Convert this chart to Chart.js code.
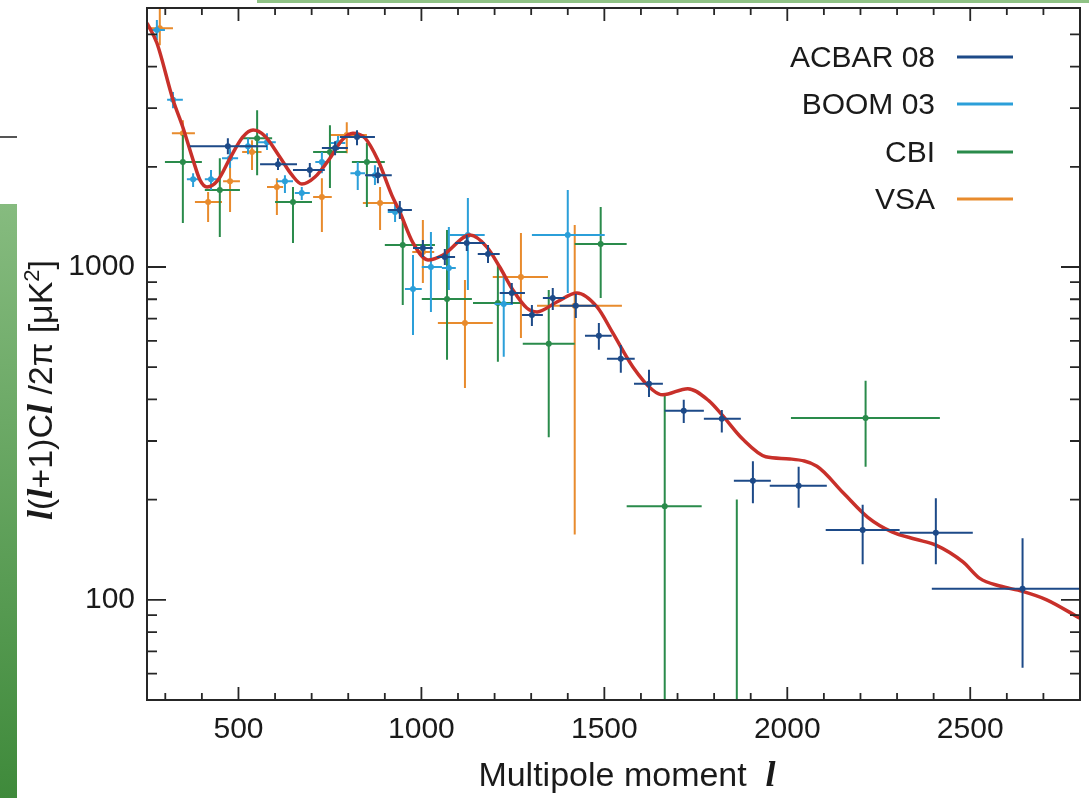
<!DOCTYPE html>
<html>
<head>
<meta charset="utf-8">
<script src="https://cdn.jsdelivr.net/npm/chart.js@4.4.1/dist/chart.umd.min.js"></script>
<style>
  body { margin: 0; background: #fff; }
  #wrap { position: relative; width: 1089px; height: 798px; }
  #side { position: absolute; left: 0; top: 204px; width: 17px; height: 594px;
          background: linear-gradient(#86bb7f, #3f8a3b); }
  #rule { position: absolute; left: 0; top: 136px; width: 17px; height: 2px; background: #555; }
  #topline { position: absolute; left: 257px; top: 0; width: 832px; height: 3px; background: #8fc285; }
  canvas { position: absolute; left: 0; top: 0; }
</style>
</head>
<body>
<div id="wrap">
  <div id="side"></div>
  <div id="rule"></div>
  <div id="topline"></div>
  <canvas id="cmb"></canvas>
</div>
<script>
// multipole l, bin edges, band power and its error range (uK^2)
const acbarL    = [471, 608, 695, 764, 824, 881, 941, 1004, 1064, 1124, 1182, 1247, 1302, 1359, 1422, 1485, 1545, 1622, 1717, 1821, 1906, 2031, 2206, 2406, 2643];
const acbarLMin = [367, 559, 649, 728, 777, 846, 908, 977, 1042, 1092, 1154, 1214, 1275, 1332, 1378, 1447, 1507, 1581, 1665, 1772, 1854, 1952, 2105, 2307, 2395];
const acbarLMax = [578, 660, 736, 799, 873, 919, 974, 1031, 1092, 1173, 1214, 1283, 1332, 1392, 1477, 1520, 1583, 1660, 1772, 1873, 1955, 2108, 2307, 2507, 2880];
const acbarV    = [2307, 2036, 1955, 2276, 2456, 1888, 1483, 1141, 1071, 1180, 1094, 836, 717, 807, 765, 621, 530, 446, 370, 350, 228, 220, 162, 159, 108];
const acbarVMin = [2183, 1955, 1862, 2168, 2322, 1786, 1393, 1071, 1014, 1117, 1028, 774, 665, 743, 703, 564, 481, 407, 340, 318, 195, 189, 128, 128, 62.5];
const acbarVMax = [2438, 2123, 2052, 2388, 2577, 1995, 1578, 1205, 1132, 1247, 1164, 895, 769, 864, 830, 679, 583, 491, 399, 372, 261, 251, 193, 202, 153];

const boomL    = [277, 321, 376, 425, 477, 526, 578, 627, 673, 728, 772, 826, 873, 928, 977, 1026, 1075, 1127, 1225, 1400];
const boomLMin = [258, 305, 359, 408, 455, 504, 553, 605, 654, 710, 752, 806, 852, 908, 955, 1001, 1056, 1078, 1200, 1302];
const boomLMax = [299, 348, 395, 444, 499, 548, 602, 649, 695, 746, 792, 846, 894, 948, 1001, 1056, 1094, 1173, 1250, 1501];
const boomV    = [5150, 3180, 1836, 1836, 2123, 2307, 2372, 1811, 1668, 2067, 2356, 1914, 1888, 1463, 859, 1000, 993, 1247, 774, 1247];
const boomVMin = [4810, 2999, 1738, 1703, 1982, 2183, 2245, 1668, 1589, 1914, 2245, 1703, 1763, 1365, 625, 733, 853, 853, 537, 836];
const boomVMax = [5520, 3357, 1914, 1955, 2274, 2438, 2523, 1888, 1738, 2214, 2473, 2067, 2023, 1567, 1087, 1274, 1319, 1611, 959, 1703];

const cbiL    = [348, 449, 551, 649, 750, 851, 949, 1070, 1209, 1348, 1490, 1665, 1862, 2214];
const cbiLMin = [299, 408, 512, 600, 704, 810, 900, 1001, 1141, 1277, 1419, 1561, 1810, 2010];
const cbiLMax = [400, 504, 592, 701, 796, 900, 1037, 1138, 1277, 1419, 1561, 1766, 1920, 2417];
const cbiV    = [2067, 1703, 2438, 1567, 2214, 2067, 1164, 802, 780, 588, 1173, 191, 30, 352];
const cbiVMin = [1356, 1231, 1888, 1181, 1727, 1514, 769, 526, 519, 308, 807, 10, 5, 251];
const cbiVMax = [2490, 2123, 2958, 1738, 2668, 2356, 1413, 1291, 1014, 853, 1514, 411, 200, 455];

const vsaL    = [285, 348, 417, 477, 537, 605, 728, 796, 887, 1004, 1119, 1272, 1419];
const vsaLMin = [250, 318, 381, 458, 510, 578, 704, 750, 840, 975, 1045, 1195, 1316];
const vsaLMax = [321, 381, 455, 504, 563, 622, 755, 851, 933, 1035, 1195, 1346, 1548];
const vsaV    = [5220, 2523, 1567, 1811, 2214, 1738, 1622, 2490, 1556, 1109, 679, 933, 765];
const vsaVMin = [4640, 2245, 1365, 1463, 1955, 1433, 1274, 2198, 1291, 895, 433, 612, 157];
const vsaVMax = [6500, 2762, 1679, 1982, 2405, 1849, 1849, 2724, 1738, 1384, 914, 1264, 1337];

// best-fit model spectrum
const theoryL = [250, 277, 321, 348, 376, 395, 414, 444, 477, 512, 540, 572, 613, 646, 673, 709, 750, 783, 813, 846, 881, 919, 941, 977, 1018, 1059, 1133, 1179, 1214, 1250, 1288, 1316, 1370, 1425, 1480, 1523, 1578, 1632, 1660, 1728, 1786, 1821, 1878, 1941, 2007, 2081, 2154, 2220, 2286, 2351, 2406, 2480, 2526, 2581, 2643, 2709, 2800];
const theoryV = [5410, 4710, 3180, 2630, 2095, 1824, 1740, 1824, 2123, 2460, 2580, 2475, 2140, 1890, 1775, 1863, 2123, 2406, 2523, 2438, 2095, 1644, 1463, 1181, 1050, 1087, 1247, 1148, 1000, 853, 753, 733, 785, 836, 759, 634, 501, 427, 413, 431, 396, 360, 304, 269, 265, 252, 209, 177, 160, 152, 146, 130, 116, 110, 106, 100, 88];

const xLabels = [500, 1000, 1500, 2000, 2500];
const yLabels = [100, 1000];

const sansFont = '"Liberation Sans", Arial, Helvetica, sans-serif';
const ellFont = 'italic bold 36px "Liberation Serif", "DejaVu Serif", serif';

function makeSet(label, color, order, L, LMin, LMax, V, VMin, VMax) {
    return {
        label: label,
        order: order,
        data: L.map((l, i) => ({ x: l, y: V[i] })),
        errors: L.map((l, i) => ({ l: l, lMin: LMin[i], lMax: LMax[i], v: V[i], vMin: VMin[i], vMax: VMax[i] })),
        borderColor: color,
        backgroundColor: color,
        pointRadius: 3,
        pointBorderWidth: 0,
        showLine: false
    };
}

const errorBars = {
    id: 'errorBars',
    beforeDatasetDraw(chart, args) {
        const ds = chart.data.datasets[args.index];
        if (!ds.errors) return;
        const { ctx, chartArea: a, scales: { x, y } } = chart;
        ctx.save();
        ctx.beginPath();
        ctx.rect(a.left, a.top, a.right - a.left, a.bottom - a.top);
        ctx.clip();
        ctx.strokeStyle = ds.borderColor;
        ctx.lineWidth = 2;
        ctx.beginPath();
        ds.errors.forEach(e => {
            const px = x.getPixelForValue(e.l);
            const py = y.getPixelForValue(e.v);
            ctx.moveTo(x.getPixelForValue(e.lMin), py);
            ctx.lineTo(x.getPixelForValue(e.lMax), py);
            ctx.moveTo(px, y.getPixelForValue(e.vMin));
            ctx.lineTo(px, y.getPixelForValue(e.vMax));
        });
        ctx.stroke();
        ctx.restore();
    }
};

// frame with inward ticks on all four sides
const frameTicks = {
    id: 'frameTicks',
    afterDatasetsDraw(chart) {
        const { ctx, chartArea: a, scales: { x, y } } = chart;
        ctx.save();
        ctx.strokeStyle = '#262626';
        ctx.lineWidth = 2;
        ctx.strokeRect(a.left, a.top, a.right - a.left, a.bottom - a.top);
        ctx.lineWidth = 1.8;
        ctx.beginPath();
        for (let v = 300; v <= 2700; v += 100) {
            const px = x.getPixelForValue(v);
            const len = v % 500 === 0 ? 13 : 7;
            ctx.moveTo(px, a.bottom); ctx.lineTo(px, a.bottom - len);
            ctx.moveTo(px, a.top); ctx.lineTo(px, a.top + len);
        }
        [10, 100, 1000].forEach(dec => {
            for (let m = 1; m <= 9; m++) {
                const v = m * dec;
                if (v < 50 || v > 6000) continue;
                const py = y.getPixelForValue(v);
                const len = m === 1 ? 19 : 10;
                ctx.moveTo(a.left, py); ctx.lineTo(a.left + len, py);
                ctx.moveTo(a.right, py); ctx.lineTo(a.right - len, py);
            }
        });
        ctx.stroke();
        ctx.restore();
    }
};

function drawParts(ctx, parts, x, y) {
    let cx = x;
    parts.forEach(p => {
        ctx.font = p.f;
        ctx.fillText(p.t, cx, y + (p.up || 0));
        cx += ctx.measureText(p.t).width;
    });
}
function partsWidth(ctx, parts) {
    let w = 0;
    parts.forEach(p => { ctx.font = p.f; w += ctx.measureText(p.t).width; });
    return w;
}

// axis titles and legend
const annotations = {
    id: 'annotations',
    afterDraw(chart) {
        const ctx = chart.ctx;
        ctx.save();
        ctx.fillStyle = '#1a1a1a';
        ctx.textBaseline = 'alphabetic';
        ctx.textAlign = 'left';

        const sans = '34px ' + sansFont;
        const xParts = [{ t: 'Multipole moment  ', f: sans }, { t: 'l', f: ellFont }];
        const xw = partsWidth(ctx, xParts);
        drawParts(ctx, xParts, 627 - xw / 2, 786);

        const yParts = [
            { t: 'l', f: ellFont }, { t: '(', f: sans }, { t: 'l', f: ellFont },
            { t: '+1)C', f: sans }, { t: 'l', f: ellFont }, { t: ' /2\u03C0 [\u03BCK', f: sans },
            { t: '2', f: '22px ' + sansFont, up: -13 }, { t: ']', f: sans }
        ];
        const yw = partsWidth(ctx, yParts);
        ctx.save();
        ctx.translate(52, 390 + yw / 2);
        ctx.rotate(-Math.PI / 2);
        drawParts(ctx, yParts, 0, 0);
        ctx.restore();

        // legend: label on the left, line sample on the right
        const rows = [57, 104, 152, 199];
        const sets = chart.data.datasets.filter(d => d.errors);
        ctx.font = '30px ' + sansFont;
        ctx.textAlign = 'right';
        sets.forEach((d, i) => {
            ctx.fillStyle = '#1a1a1a';
            ctx.fillText(d.label, 935, rows[i] + 10);
            ctx.strokeStyle = d.borderColor;
            ctx.lineWidth = 3;
            ctx.beginPath();
            ctx.moveTo(957, rows[i]);
            ctx.lineTo(1013, rows[i]);
            ctx.stroke();
        });
        ctx.restore();
    }
};

new Chart(document.getElementById('cmb'), {
    type: 'scatter',
    data: {
        datasets: [
            makeSet('ACBAR 08', '#1d4a88', 0, acbarL, acbarLMin, acbarLMax, acbarV, acbarVMin, acbarVMax),
            makeSet('BOOM 03', '#2b9fd9', 2, boomL, boomLMin, boomLMax, boomV, boomVMin, boomVMax),
            makeSet('CBI', '#2a8b4b', 3, cbiL, cbiLMin, cbiLMax, cbiV, cbiVMin, cbiVMax),
            makeSet('VSA', '#e88b2d', 4, vsaL, vsaLMin, vsaLMax, vsaV, vsaVMin, vsaVMax),
            {
                label: 'model',
                type: 'line',
                order: 1,
                data: theoryL.map((l, i) => ({ x: l, y: theoryV[i] })),
                borderColor: '#c8302a',
                borderWidth: 3.5,
                pointRadius: 0,
                cubicInterpolationMode: 'monotone',
                fill: false
            }
        ]
    },
    options: {
        responsive: true,
        maintainAspectRatio: false,
        animation: false,
        layout: { padding: { top: 8, right: 9, left: 0, bottom: 0 } },
        plugins: { legend: { display: false }, tooltip: { enabled: false } },
        scales: {
            x: {
                type: 'linear',
                min: 250,
                max: 2800,
                afterBuildTicks: s => { s.ticks = xLabels.map(v => ({ value: v })); },
                afterFit: s => { s.height = 98; s.paddingLeft = 0; s.paddingRight = 0; },
                grid: { display: false, drawTicks: false },
                border: { display: false },
                ticks: { padding: 12, color: '#1a1a1a', font: { size: 30, family: sansFont }, maxRotation: 0, callback: v => String(v) }
            },
            y: {
                type: 'logarithmic',
                min: 50,
                max: 6000,
                afterBuildTicks: s => { s.ticks = yLabels.map(v => ({ value: v })); },
                afterFit: s => { s.width = 147; s.paddingTop = 0; s.paddingBottom = 0; },
                grid: { display: false, drawTicks: false },
                border: { display: false },
                ticks: { padding: 12, color: '#1a1a1a', font: { size: 30, family: sansFont }, callback: v => String(v) }
            }
        }
    },
    plugins: [errorBars, frameTicks, annotations]
});
</script>
</body>
</html>
